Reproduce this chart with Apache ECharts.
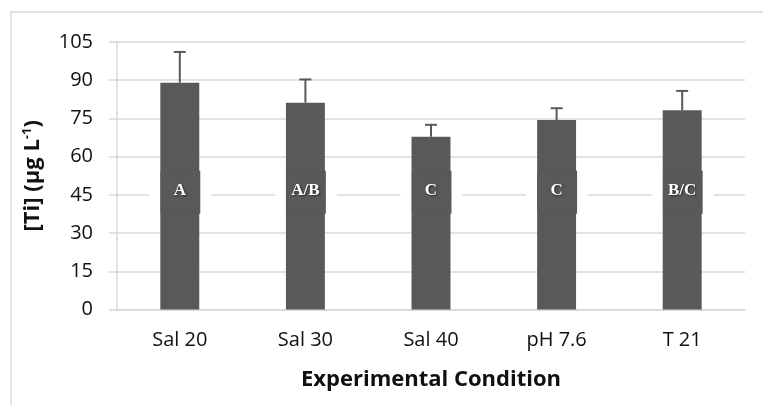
<!DOCTYPE html>
<html>
<head>
<meta charset="utf-8">
<script src="https://cdn.jsdelivr.net/npm/echarts@6/dist/echarts.min.js"></script>
<style>
  html, body { margin: 0; padding: 0; background: #fff; }
  #chart { width: 763px; height: 405px; }
</style>
</head>
<body>
<div id="chart"></div>
<script>
// Ti concentration per experimental condition
const categories = ['Sal 20', 'Sal 30', 'Sal 40', 'pH 7.6', 'T 21'];
const meanTi = [89.0, 81.2, 67.8, 74.4, 78.2];
const errTi = [12.1, 9.1, 4.7, 4.6, 7.6];
const groupLetters = ['A', 'A/B', 'C', 'C', 'B/C'];
const letterLevel = [46, 46, 46, 46, 46];
const yTicks = { min: 0, max: 105, interval: 15 };

const BAR_COLOR = '#595959';
const GRID_COLOR = '#d9d9d9';
const BAR_FRAC = 0.31;

const chart = echarts.init(document.getElementById('chart'));

const errorData = categories.map((c, i) => [i, meanTi[i], meanTi[i] + errTi[i]]);
const letterData = categories.map((c, i) => [i, letterLevel[i], groupLetters[i]]);

chart.setOption({
  animation: false,
  grid: { left: 117, right: 18, top: 42, bottom: 95.5, containLabel: false },
  xAxis: {
    type: 'category',
    data: categories,
    axisLine: { show: true, lineStyle: { color: GRID_COLOR, width: 1.5 } },
    axisTick: { show: false },
    axisLabel: { margin: 21, fontFamily: 'Open Sans', fontSize: 20, color: '#111' },
    name: 'Experimental Condition',
    nameLocation: 'middle',
    nameGap: 59,
    nameTextStyle: { fontFamily: 'Open Sans', fontWeight: 'bold', fontSize: 22, color: '#111' }
  },
  yAxis: {
    type: 'value',
    min: yTicks.min, max: yTicks.max, interval: yTicks.interval,
    axisLine: { show: true, lineStyle: { color: GRID_COLOR, width: 1.5 } },
    axisTick: { show: true, inside: false, length: 8, lineStyle: { color: GRID_COLOR, width: 1.5 } },
    splitLine: { show: true, lineStyle: { color: GRID_COLOR, width: 1.5 } },
    axisLabel: { margin: 24, fontFamily: 'Open Sans', fontSize: 20, color: '#111' },
    name: '{t|[Ti] (µg L}{s|-1}{t|)}',
    nameLocation: 'middle',
    nameRotate: 90,
    nameGap: 73,
    nameTextStyle: {
      rich: {
        t: { fontFamily: 'Open Sans', fontWeight: 'bold', fontSize: 22, color: '#111' },
        s: { fontFamily: 'Open Sans', fontWeight: 'bold', fontSize: 13, color: '#111', verticalAlign: 'top', padding: [0, 0, 10, 0] }
      }
    }
  },
  graphic: [
    { type: 'polyline', shape: { points: [[11, 410], [11, 12], [770, 12]] },
      style: { stroke: GRID_COLOR, lineWidth: 1.5, fill: null }, silent: true }
  ],
  series: [
    {
      type: 'bar',
      data: meanTi,
      barWidth: (BAR_FRAC * 100) + '%',
      itemStyle: { color: BAR_COLOR },
      z: 2
    },
    {
      // upper error bars with caps
      type: 'custom',
      data: errorData,
      z: 3,
      renderItem: (params, api) => {
        const base = api.coord([api.value(0), api.value(1)]);
        const top = api.coord([api.value(0), api.value(2)]);
        const cap = 6;
        const st = { stroke: BAR_COLOR, lineWidth: 2 };
        return {
          type: 'group',
          children: [
            { type: 'line', shape: { x1: base[0], y1: base[1], x2: top[0], y2: top[1] }, style: st },
            { type: 'line', shape: { x1: top[0] - cap, y1: top[1], x2: top[0] + cap, y2: top[1] }, style: st }
          ]
        };
      }
    },
    {
      // significance-group letter boxes
      type: 'custom',
      data: letterData,
      z: 4,
      renderItem: (params, api) => {
        const p = api.coord([api.value(0), api.value(1)]);
        const bw = api.size([1, 0])[0] * BAR_FRAC;
        const h = 43, pad = 11;
        const x0 = p[0] - bw / 2, y0 = p[1] - h / 2;
        return {
          type: 'group',
          children: [
            { type: 'rect', shape: { x: x0 - pad, y: y0, width: pad, height: h }, style: { fill: '#fff' } },
            { type: 'rect', shape: { x: x0 + bw + 1, y: y0, width: pad, height: h }, style: { fill: '#fff' } },
            { type: 'rect', shape: { x: x0, y: y0, width: bw + 1, height: h }, style: { fill: BAR_COLOR } },
            { type: 'text', x: p[0], y: p[1] - 2,
              style: { text: api.value(2), fontFamily: 'Liberation Serif', fontWeight: 'bold', fontSize: 17,
                fill: '#fff', textAlign: 'center', textVerticalAlign: 'middle',
                textShadowColor: 'rgba(0,0,0,0.6)', textShadowBlur: 2, textShadowOffsetX: 1, textShadowOffsetY: 1 } }
          ]
        };
      }
    }
  ]
});
</script>
</body>
</html>
